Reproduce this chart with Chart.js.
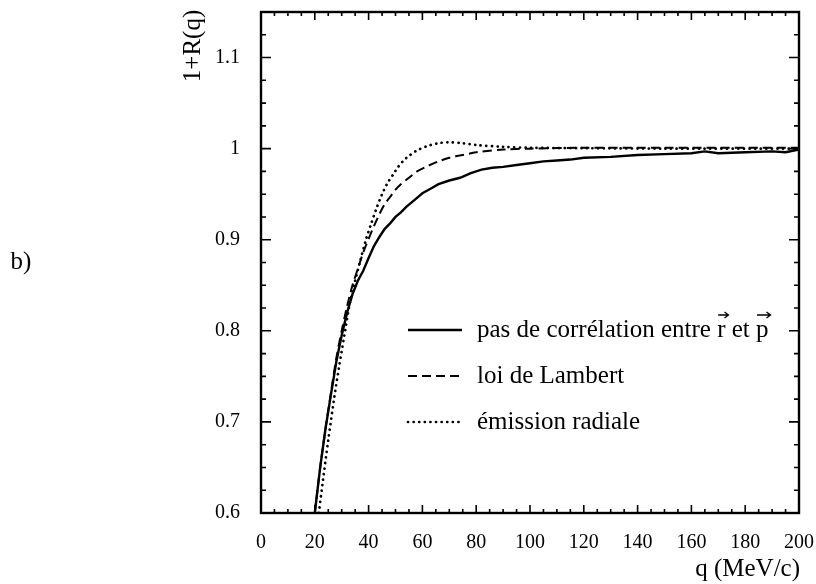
<!DOCTYPE html>
<html>
<head>
<meta charset="utf-8">
<script src="https://cdn.jsdelivr.net/npm/chart.js@4"></script>
<style>
  html, body { margin: 0; padding: 0; background: #fff; }
  canvas { display: block; }
</style>
</head>
<body>
<canvas id="corrChart" width="816" height="584"></canvas>
<script>
// q (MeV/c) and 1+R(q)
const qSolid = [20, 22, 24, 26, 28, 30, 32, 34, 36, 38, 40, 42, 44, 46, 48, 50, 52, 54, 56, 58, 60, 63, 66, 70, 74, 78, 82, 86, 90, 95, 100, 105, 110, 115, 120, 130, 140, 150, 160, 165, 170, 180, 190, 195, 200];
const rSolid = [0.600, 0.650, 0.693, 0.730, 0.766, 0.795, 0.820, 0.840, 0.855, 0.866, 0.880, 0.893, 0.903, 0.912, 0.918, 0.925, 0.930, 0.936, 0.941, 0.946, 0.951, 0.956, 0.961, 0.965, 0.968, 0.973, 0.977, 0.979, 0.980, 0.982, 0.984, 0.986, 0.987, 0.988, 0.990, 0.991, 0.993, 0.994, 0.995, 0.997, 0.995, 0.996, 0.997, 0.996, 0.999];

const qLambert = [20, 22, 24, 26, 28, 30, 32, 34, 36, 38, 40, 42, 44, 46, 48, 50, 52, 55, 58, 62, 66, 70, 75, 80, 90, 100, 120, 150, 200];
const rLambert = [0.600, 0.650, 0.693, 0.732, 0.770, 0.800, 0.827, 0.850, 0.868, 0.886, 0.901, 0.915, 0.928, 0.939, 0.947, 0.955, 0.961, 0.968, 0.975, 0.981, 0.986, 0.990, 0.993, 0.996, 0.999, 1.000, 1.001, 1.001, 1.001];

const qRadial = [21.5, 23, 25, 27, 29, 31, 33, 35, 37, 39, 41, 43, 45, 47, 49, 51, 53, 55, 58, 62, 66, 70, 75, 80, 90, 100, 120, 150, 200];
const rRadial = [0.600, 0.635, 0.680, 0.722, 0.760, 0.795, 0.830, 0.855, 0.878, 0.900, 0.918, 0.935, 0.950, 0.962, 0.971, 0.980, 0.987, 0.992, 0.998, 1.003, 1.006, 1.007, 1.006, 1.004, 1.002, 1.001, 1.0005, 1.000, 1.000];

const legendLabels = ['pas de corrélation entre r et p', 'loi de Lambert', 'émission radiale'];
const xTickLabels = [0, 20, 40, 60, 80, 100, 120, 140, 160, 180, 200];
const yTickLabels = [0.6, 0.7, 0.8, 0.9, 1.0, 1.1];

const FONT = "'Liberation Serif', 'DejaVu Serif', serif";

const toPoints = (xs, ys) => xs.map((x, i) => ({ x: x, y: ys[i] }));

// small vector arrow over a letter
const drawVecArrow = (ctx, x0, x1, y) => {
    ctx.save();
    ctx.lineWidth = 1.3;
    ctx.setLineDash([]);
    ctx.beginPath();
    ctx.moveTo(x0, y); ctx.lineTo(x1, y);
    ctx.moveTo(x1 - 4, y - 3); ctx.lineTo(x1, y); ctx.lineTo(x1 - 4, y + 3);
    ctx.stroke();
    ctx.restore();
};

// inward tick marks on all four sides + frame, legend and free texts
const framePlugin = {
    id: 'frame',
    afterDraw(chart) {
        const ctx = chart.ctx;
        const a = chart.chartArea;
        const xs = chart.scales.x;
        const ys = chart.scales.y;
        ctx.save();
        ctx.strokeStyle = '#000';

        // x ticks: minor every 5, major every 20
        ctx.lineWidth = 1.6;
        for (let v = 0; v <= 200; v += 5) {
            const px = xs.getPixelForValue(v);
            const len = (v % 20 === 0) ? 8 : 4;
            ctx.beginPath();
            ctx.moveTo(px, a.bottom); ctx.lineTo(px, a.bottom - len);
            ctx.moveTo(px, a.top); ctx.lineTo(px, a.top + len);
            ctx.stroke();
        }
        // y ticks: minor every 0.025, major every 0.1
        for (let k = 0; k <= 22; k++) {
            const v = 0.6 + k * 0.025;
            const py = ys.getPixelForValue(v);
            const len = (k % 4 === 0) ? 10 : 5;
            ctx.beginPath();
            ctx.moveTo(a.left, py); ctx.lineTo(a.left + len, py);
            ctx.moveTo(a.right, py); ctx.lineTo(a.right - len, py);
            ctx.stroke();
        }

        // frame
        ctx.lineWidth = 2.4;
        ctx.strokeRect(a.left, a.top, a.right - a.left, a.bottom - a.top);

        // legend inside the plot
        const rows = [330, 376, 422];
        chart.data.datasets.forEach((ds, i) => {
            ctx.beginPath();
            ctx.lineWidth = ds.borderWidth;
            ctx.lineCap = ds.borderCapStyle || 'butt';
            ctx.setLineDash(ds.borderDash || []);
            ctx.moveTo(408, rows[i]);
            ctx.lineTo(462, rows[i]);
            ctx.stroke();
        });
        ctx.setLineDash([]);
        ctx.lineCap = 'butt';
        ctx.fillStyle = '#000';
        ctx.font = '25px ' + FONT;
        ctx.textAlign = 'left';
        ctx.textBaseline = 'middle';
        legendLabels.forEach((t, i) => ctx.fillText(t, 477, rows[i]));

        // vector arrows over r and p in the first label
        const t0 = legendLabels[0];
        const rStart = 477 + ctx.measureText(t0.slice(0, t0.lastIndexOf('r'))).width;
        const rEnd = rStart + ctx.measureText('r').width;
        const pStart = 477 + ctx.measureText(t0.slice(0, t0.length - 1)).width;
        const pEnd = pStart + ctx.measureText('p').width;
        drawVecArrow(ctx, rStart + 1, rEnd + 3, rows[0] - 15);
        drawVecArrow(ctx, pStart + 1, pEnd + 2, rows[0] - 15);

        // axis titles and panel label
        ctx.textAlign = 'right';
        ctx.fillText('q (MeV/c)', 800, 569);
        ctx.textAlign = 'center';
        ctx.fillText('b)', 21, 262);
        ctx.translate(193, 46);
        ctx.rotate(-Math.PI / 2);
        ctx.fillText('1+R(q)', 0, 0);
        ctx.restore();
    }
};

const noPad = (s) => {
    s.paddingTop = 0; s.paddingBottom = 0; s.paddingLeft = 0; s.paddingRight = 0;
};

new Chart(document.getElementById('corrChart'), {
    type: 'line',
    data: {
        datasets: [
            {
                label: legendLabels[0],
                data: toPoints(qSolid, rSolid),
                borderColor: '#000',
                borderWidth: 2.4,
                pointRadius: 0,
                tension: 0
            },
            {
                label: legendLabels[1],
                data: toPoints(qLambert, rLambert),
                borderColor: '#000',
                borderWidth: 2,
                borderDash: [9, 5],
                pointRadius: 0,
                tension: 0.3
            },
            {
                label: legendLabels[2],
                data: toPoints(qRadial, rRadial),
                borderColor: '#000',
                borderWidth: 2.7,
                borderDash: [0.1, 5.5],
                borderCapStyle: 'round',
                pointRadius: 0,
                tension: 0.3
            }
        ]
    },
    options: {
        responsive: false,
        animation: false,
        devicePixelRatio: 1,
        layout: { padding: { top: 12, right: 17, left: 0, bottom: 0 } },
        plugins: {
            legend: { display: false },
            tooltip: { enabled: false }
        },
        scales: {
            x: {
                type: 'linear',
                min: 0,
                max: 200,
                grid: { display: false },
                border: { display: false },
                afterFit: (s) => { s.height = 71; noPad(s); },
                afterBuildTicks: (s) => { s.ticks = xTickLabels.map(v => ({ value: v })); },
                ticks: {
                    color: '#000',
                    padding: 10,
                    maxRotation: 0,
                    font: { family: FONT, size: 20 },
                    callback: (v) => String(v)
                }
            },
            y: {
                type: 'linear',
                min: 0.6,
                max: 1.15,
                grid: { display: false },
                border: { display: false },
                afterFit: (s) => { s.width = 261; noPad(s); },
                afterBuildTicks: (s) => { s.ticks = yTickLabels.map(v => ({ value: v })); },
                ticks: {
                    color: '#000',
                    padding: 13,
                    font: { family: FONT, size: 20 },
                    callback: (v) => String(+v.toFixed(2))
                }
            }
        }
    },
    plugins: [framePlugin]
});
</script>
</body>
</html>
